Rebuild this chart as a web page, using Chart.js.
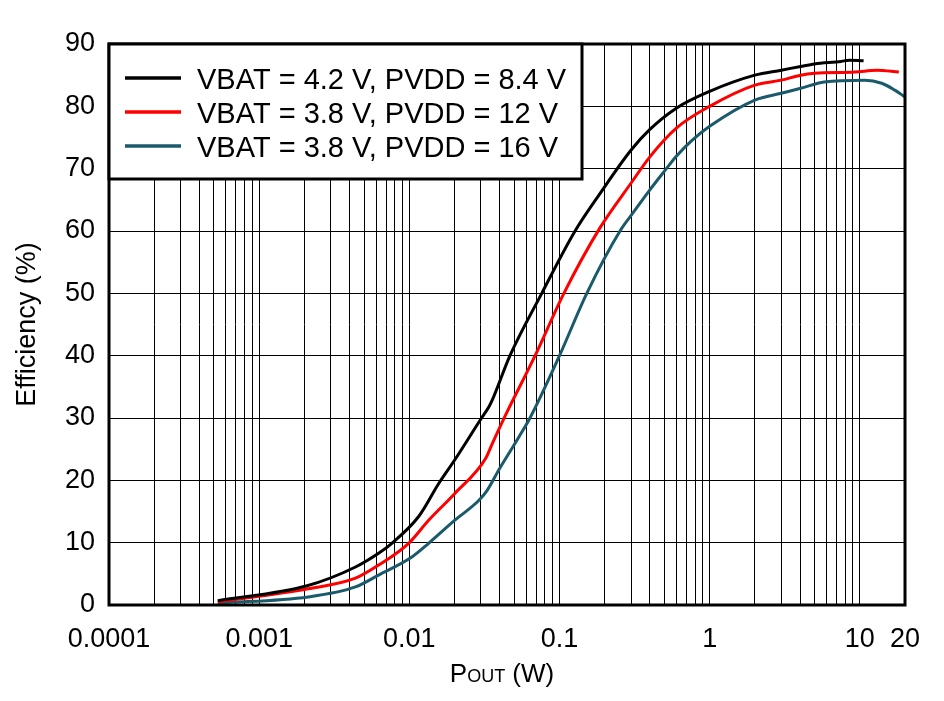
<!DOCTYPE html>
<html><head><meta charset="utf-8">
<script src="https://cdn.jsdelivr.net/npm/chart.js@4/dist/chart.umd.min.js"></script>
<style>html,body{margin:0;padding:0;background:#fff;}</style>
</head><body>
<canvas id="c" width="944" height="701" style="width:944px;height:701px;display:block"></canvas>
<script>
// ---- data ----
const seriesLabels = ["VBAT = 4.2 V, PVDD = 8.4 V", "VBAT = 3.8 V, PVDD = 12 V", "VBAT = 3.8 V, PVDD = 16 V"];
const seriesColors = ["#000000", "#ff0000", "#1a5a6b"];

const pBlack   = [0.00053, 0.00206, 0.00438, 0.00624, 0.00765, 0.01154, 0.0157, 0.0201, 0.0299, 0.0339, 0.0357, 0.0468, 0.0762, 0.127, 0.186, 0.3, 0.4, 0.6, 1.0, 2.0, 3.0, 4.04, 5.0, 7.5, 8.5, 10.6];
const effBlack = [0.7, 3.05, 6.1, 8.3, 9.9, 14.2, 19.5, 23.3, 29.8, 31.8, 32.9, 40, 50, 60, 66.0, 73.0, 76.3, 79.7, 82.4, 85.0, 85.8, 86.4, 86.8, 87.2, 87.4, 87.3];

const pRed   = [0.00053, 0.00212, 0.00438, 0.00624, 0.0099, 0.01345, 0.0201, 0.0322, 0.0357, 0.0438, 0.0688, 0.107, 0.186, 0.3, 0.4, 0.6, 1.0, 2.0, 3.0, 4.04, 5.0, 9.3, 13, 18.2];
const effRed = [0.5, 2.6, 4.3, 6.4, 9.9, 13.6, 17.9, 23.5, 25.9, 30.5, 40, 50, 60.5, 67.7, 71.9, 76.5, 80.0, 83.4, 84.2, 85.0, 85.3, 85.5, 85.8, 85.5];

const pTeal   = [0.00053, 0.00212, 0.00438, 0.00624, 0.0104, 0.01345, 0.0201, 0.0291, 0.033, 0.0395, 0.0538, 0.0636, 0.1, 0.152, 0.253, 0.3, 0.4, 0.5, 0.6, 0.76, 1.0, 2.0, 3.0, 4.04, 5.8, 10.8, 14, 17.1, 20];
const effTeal = [0.3, 1.3, 2.9, 4.8, 7.7, 9.9, 13.6, 16.8, 18.4, 21.7, 27, 30, 40, 50, 60, 62.5, 66.6, 69.6, 72.0, 74.5, 76.8, 81.0, 82.1, 82.9, 83.9, 84.2, 83.7, 82.6, 81.5];

const xTickLabels = [0.0001, 0.001, 0.01, 0.1, 1, 10, 20];
const xMin = 0.0001, xMax = 20;
const yMin = 0, yMax = 90, yStep = 10;
const yTitle = "Efficiency (%)";
const xTitleMain = "P", xTitleSub = "OUT", xTitleTail = " (W)";

// ---- chart ----
const FONT = "'Liberation Sans', Arial, sans-serif";
Chart.defaults.font.family = FONT;
Chart.defaults.color = "#000";

function pts(xs, ys){ return xs.map((x,i)=>({x:x, y:ys[i]})); }

const framePlugin = {
  id: 'frame',
  afterDatasetsDraw(chart){
    const ctx = chart.ctx, a = chart.chartArea;
    ctx.save();
    ctx.strokeStyle = '#000';
    ctx.lineWidth = 3;
    ctx.strokeRect(a.left, a.top, a.right - a.left, a.bottom - a.top);
    // legend box inside the plot, top-left
    const lx = a.left, ly = a.top, lw = 473, lh = 135;
    ctx.fillStyle = '#fff';
    ctx.fillRect(lx, ly, lw, lh);
    ctx.strokeRect(lx, ly, lw, lh);
    ctx.font = "29px " + FONT;
    ctx.textBaseline = 'alphabetic';
    ctx.textAlign = 'left';
    chart.data.datasets.forEach((ds, i) => {
      const y = ly + 34 + i * 34;
      ctx.strokeStyle = ds.borderColor;
      ctx.lineWidth = 3.5;
      ctx.beginPath(); ctx.moveTo(lx + 16, y); ctx.lineTo(lx + 72, y); ctx.stroke();
      ctx.fillStyle = '#000';
      ctx.fillText(ds.label, lx + 88, y + 11);
    });
    // x axis title with subscript
    const big = "26px " + FONT, small = "18px " + FONT;
    ctx.font = big; const w1 = ctx.measureText(xTitleMain).width; const w3 = ctx.measureText(xTitleTail).width;
    ctx.font = small; const w2 = ctx.measureText(xTitleSub).width;
    const total = w1 + w2 + w3;
    let x = 502 - total / 2; const by = 682;
    ctx.fillStyle = '#000';
    ctx.font = big; ctx.fillText(xTitleMain, x, by); x += w1;
    ctx.font = small; ctx.fillText(xTitleSub, x, by); x += w2;
    ctx.font = big; ctx.fillText(xTitleTail, x, by);
    ctx.restore();
  }
};

function buildLogTicks(){
  const t = [];
  for (let e = -4; e <= 1; e++) {
    for (let m = 1; m <= 9; m++) {
      const v = Number((m * Math.pow(10, e)).toPrecision(6));
      if (v >= xMin && v <= xMax) t.push({value: v});
    }
  }
  if (!t.some(o => o.value === xMax)) t.push({value: xMax});
  return t;
}

new Chart(document.getElementById('c'), {
  type: 'line',
  data: {
    datasets: [
      {label: seriesLabels[0], data: pts(pBlack, effBlack), borderColor: seriesColors[0]},
      {label: seriesLabels[1], data: pts(pRed, effRed), borderColor: seriesColors[1]},
      {label: seriesLabels[2], data: pts(pTeal, effTeal), borderColor: seriesColors[2]}
    ].map(d => Object.assign(d, {borderWidth: 3, pointRadius: 0, fill: false, cubicInterpolationMode: 'monotone'}))
  },
  options: {
    responsive: false,
    animation: false,
    devicePixelRatio: 1,
    layout: {padding: {top: 44, right: 39, left: 0, bottom: 0}},
    plugins: {legend: {display: false}, tooltip: {enabled: false}},
    scales: {
      x: {
        type: 'logarithmic',
        min: xMin, max: xMax,
        afterBuildTicks(scale){ scale.ticks = buildLogTicks(); },
        afterFit(scale){ scale.height = 96; },
        grid: {color: '#000', lineWidth: 1, drawTicks: false},
        border: {display: false},
        ticks: {
          autoSkip: false, maxRotation: 0, minRotation: 0, padding: 18,
          font: {size: 27}, color: '#000',
          callback(v){ const hit = xTickLabels.find(l => Math.abs(l - v) / l < 1e-6); return hit !== undefined ? String(hit) : ''; }
        }
      },
      y: {
        min: yMin, max: yMax,
        afterFit(scale){ scale.width = 109; },
        grid: {color: '#000', lineWidth: 1, drawTicks: false},
        border: {display: false},
        ticks: {stepSize: yStep, padding: 14, font: {size: 27}, color: '#000'},
        title: {display: true, text: yTitle, font: {size: 27}, color: '#000', padding: {top: 11, bottom: 0}}
      }
    }
  },
  plugins: [framePlugin]
});
</script>
</body></html>
